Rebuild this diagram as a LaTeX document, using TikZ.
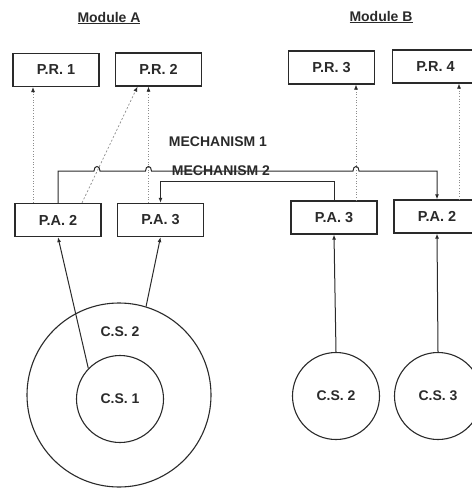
\documentclass[tikz,border=0pt]{standalone}
\usepackage{fontspec}
\setmainfont{Liberation Sans}
\usetikzlibrary{arrows.meta,calc}
\definecolor{ink}{HTML}{2A2A2A}
\definecolor{dots}{HTML}{8C8C8C}

\begin{document}
\begin{tikzpicture}[x=1pt, y=-1pt,
    box/.style={draw=ink, line width=1.3pt, minimum width=86pt, minimum height=33pt, inner sep=0pt,
      font=\fontsize{14.5}{16}\selectfont\bfseries, text=ink},
    state/.style={draw=ink, line width=1.1pt, circle, inner sep=0pt,
      font=\fontsize{14}{16}\selectfont\bfseries, text=ink},
    lbl/.style={font=\fontsize{14}{16}\selectfont\bfseries, text=ink},
    link/.style={draw=ink, line width=1pt, -{Latex[length=5pt,width=4pt]}},
    trace/.style={draw=dots, line width=0.7pt, dotted, -{Latex[length=5pt,width=4pt,color=ink]}}]
  \useasboundingbox (0,0) rectangle (471,489);

  \node[lbl] (modA) at (109,18) {\underline{Module A}};
  \node[lbl] (modB) at (381,17) {\underline{Module B}};

  \node[box] (pr1) at (56,70) {P.R. 1};
  \node[box] (pr2) at (158.5,69.5) {P.R. 2};
  \node[box] (pr3) at (331.5,67.5) {P.R. 3};
  \node[box] (pr4) at (435.5,66.5) {P.R. 4};

  \node[box] (pa2L) at (58,220) {P.A. 2};
  \node[box] (pa3L) at (160.5,220) {P.A. 3};
  \node[box] (pa3R) at (334,217.5) {P.A. 3};
  \node[box] (pa2R) at (437,216.5) {P.A. 2};

  \node[state, minimum size=184pt] (cs2L) at (119,395) {};
  \node[lbl] at (120,332) {C.S. 2};
  \node[state, minimum size=87pt] (cs1) at (120,399) {C.S. 1};
  \node[state, minimum size=87pt] (cs2R) at (336,396) {C.S. 2};
  \node[state, minimum size=87pt] (cs3) at (438,396) {C.S. 3};

  \node[lbl] (mech1) at (218,142) {MECHANISM 1};
  \node[lbl] (mech2) at (221,171) {MECHANISM 2};

  \draw[link] (cs1.136) -- (pa2L.south);
  \draw[link] (cs2L.73) -- (pa3L.south);
  \draw[link] (cs2R.north) -- (pa3R.south);
  \draw[link] (cs3.north) -- (pa2R.south);

  \draw[trace] ([xshift=-25pt]pa2L.north) -- ([xshift=-25pt]pa2L.north |- pr1.south);
  \draw[trace, dash pattern=on 2pt off 2pt] ([xshift=24pt]pa2L.north) -- ([xshift=-21pt]pr2.south);
  \draw[trace] ([xshift=-12pt]pa3L.north) -- ([xshift=-12pt]pa3L.north |- pr2.south);
  \draw[trace] ([xshift=22pt]pa3R.north) -- ([xshift=22pt]pa3R.north |- pr3.south);
  \draw[trace] ([xshift=22pt]pa2R.north) -- ([xshift=22pt]pa2R.north |- pr4.south);

  \coordinate (m2) at (0,171);
  \coordinate (m1) at (0,181);
  \draw[link] (pa2L.north) |- (94,171) .. controls (94,165) and (100,165) .. (100,171)
    -- (145.5,171) .. controls (145.5,165) and (151.5,165) .. (151.5,171)
    -- (353,171) .. controls (353,165) and (359,165) .. (359,171)
    -- (pa2R.north |- m2) -- (pa2R.north);
  \draw[link] (pa3R.north) |- (pa3L.north |- m1) -- (pa3L.north);
\end{tikzpicture}
\end{document}
